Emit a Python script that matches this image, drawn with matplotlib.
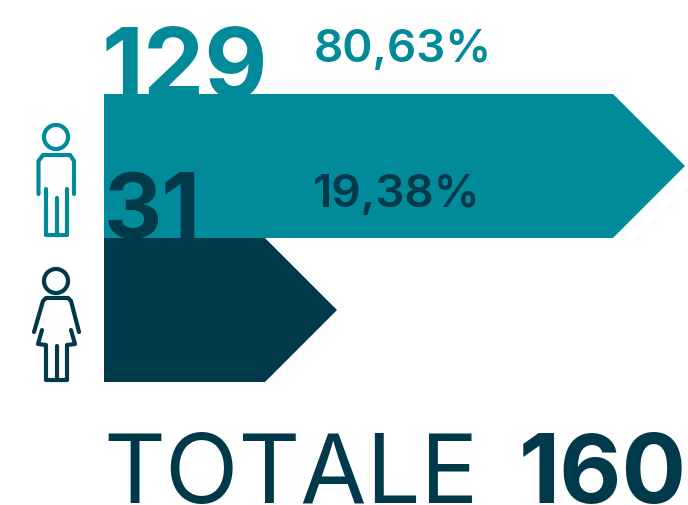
import matplotlib
matplotlib.use("Agg")
import matplotlib.pyplot as plt

# data
counts = [129, 31]
bar_lengths = [129, 40.8]  # as drawn in the original, the short bar is not to scale
shares = ["80,63%", "19,38%"]
total_label = "TOTALE"
total = 160
teal = "#008a9a"
dark = "#003a4a"
colors = [teal, dark]

W, H = 688, 506
fig = plt.figure(figsize=(W / 100, H / 100), dpi=100)

# x axis in counts, 0 at x=104px and 129 at the end of the long shaft
left, right = 104, 613
scale = (right - left) / 129
ax = fig.add_axes([0, 0, 1, 1])
ax.set_xlim(-left / scale, (W - left) / scale)
ax.set_ylim(H, 0)
ax.axis("off")


def px(x):
    return (x - left) / scale


tops = [95, 239]
bar_h = 144
head = 72 / scale
# the big numbers sit behind the bar below them
for n, top, c, z in zip(bar_lengths, tops, colors, [1, 3]):
    ax.fill([0, n, n + head, n, 0],
            [top, top, top + bar_h / 2, top + bar_h, top + bar_h],
            color=c, lw=0, zorder=z)

font = "Inter"
ax.text(px(102), 98, str(counts[0]), family=font, weight="bold",
        fontsize=70, color=teal, ha="left", zorder=0.5)
ax.text(px(104), 238, str(counts[1]), family=font, weight="bold",
        fontsize=65, color=dark, ha="left", zorder=2)
ax.text(px(314), 62, shares[0], family=font, weight="semibold",
        fontsize=33, color=teal, ha="left")
ax.text(px(313), 207, shares[1], family=font, weight="semibold",
        fontsize=33, color=dark, ha="left", zorder=2)

ax.text(px(103), 503, total_label, family=font, weight="normal",
        fontsize=69, color=dark, ha="left", clip_on=False)
ax.text(px(687), 503, str(total), family=font, weight="bold",
        fontsize=69, color=dark, ha="right", clip_on=False)


def icon_line(xs, ys, c):
    ax.plot([px(x) for x in xs], ys, color=c, lw=3, solid_capstyle="round",
            solid_joinstyle="round")


# man icon
ax.scatter([px(56)], [138], s=300, facecolor="none", edgecolor=teal, lw=3)
icon_line([38.5, 38.5, 43, 70, 74, 74], [195, 162, 156, 156, 162, 195], teal)
icon_line([46, 46, 67, 67], [190, 236, 236, 190], teal)
icon_line([56.5, 56.5], [199, 234], teal)

# woman icon
ax.scatter([px(56)], [282], s=300, facecolor="none", edgecolor=dark, lw=3)
icon_line([34, 43, 46, 68, 71, 79], [333, 302, 299, 299, 302, 333], dark)
icon_line([42, 38, 46, 46, 67, 67, 75, 71], [331, 345, 346, 381, 381, 346, 345, 331], dark)
icon_line([56.5, 56.5], [347, 379], dark)

fig.savefig("out.png", dpi=100)
